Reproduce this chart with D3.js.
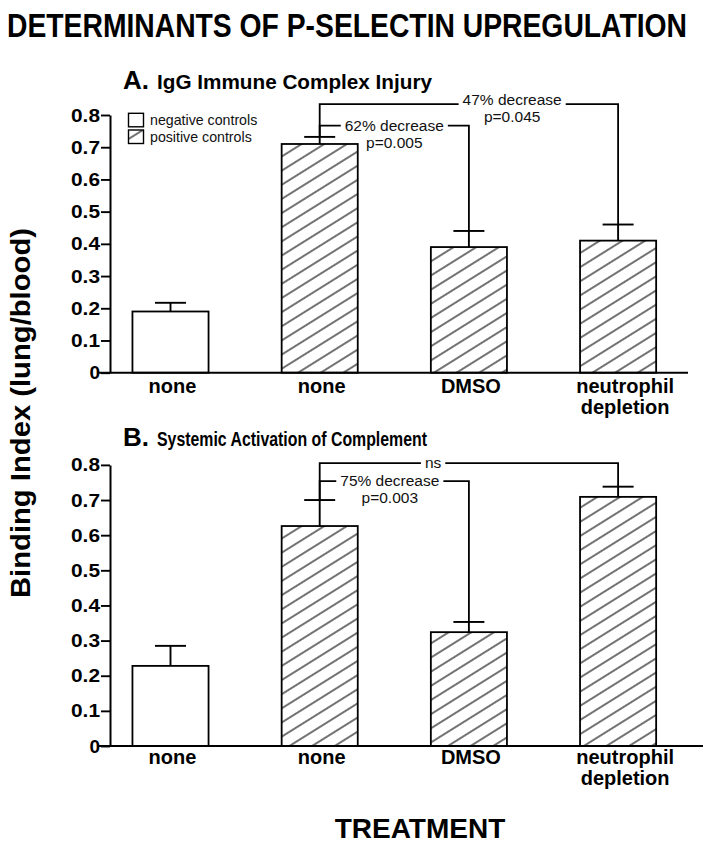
<!DOCTYPE html>
<html><head><meta charset="utf-8">
<script src="https://cdn.jsdelivr.net/npm/d3@7"></script>
<style>body{margin:0;background:#fff} svg{display:block}</style>
</head><body>
<svg id="chart" width="705" height="845"></svg>
<script>
// ---------------- data ----------------
const categoryLines = [["none"], ["none"], ["DMSO"], ["neutrophil", "depletion"]];
const controlType = ["negative", "positive", "positive", "positive"];
const legendLabels = ["negative controls", "positive controls"];
const yTickValues = [0, 0.1, 0.2, 0.3, 0.4, 0.5, 0.6, 0.7, 0.8];

const valuesA = [0.19, 0.71, 0.39, 0.41];
const errorsA = [0.027, 0.022, 0.05, 0.05];
const valuesB = [0.228, 0.626, 0.324, 0.709];
const errorsB = [0.057, 0.074, 0.029, 0.029];

const bracketsA = [
  {from: 1, to: 2, level: 0.767, label: "62% decrease", p: "p=0.005"},
  {from: 1, to: 3, level: 0.834, label: "47% decrease", p: "p=0.045"}
];
const bracketsB = [
  {from: 1, to: 2, level: 0.754, label: "75% decrease", p: "p=0.003"},
  {from: 1, to: 3, level: 0.805, label: "ns", p: ""}
];

const titleText = "DETERMINANTS OF P-SELECTIN UPREGULATION";
const panelTitles = [["A.", "IgG Immune Complex Injury"], ["B.", "Systemic Activation of Complement"]];
const yLabel = "Binding Index (lung/blood)";
const xLabel = "TREATMENT";

// ---------------- layout ----------------
const FONT = "'Liberation Sans', Arial, Helvetica, sans-serif";
const svg = d3.select("#chart").attr("font-family", FONT);
svg.append("rect").attr("width", 705).attr("height", 845).attr("fill", "#fff");

const defs = svg.append("defs");
const pat = defs.append("pattern").attr("id", "hatch")
  .attr("patternUnits", "userSpaceOnUse").attr("width", 12).attr("height", 12)
  .attr("patternTransform", "rotate(-32)");
pat.append("rect").attr("width", 12).attr("height", 12).attr("fill", "#fff");
pat.append("line").attr("x1", 0).attr("x2", 12).attr("y1", 6).attr("y2", 6)
  .attr("stroke", "#000").attr("stroke-width", 1.1);

const x = d3.scaleBand().domain(d3.range(categoryLines.length))
  .range([95.9, 692.7]).paddingInner(0.49).paddingOuter(0.245);
const cx = i => x(i) + x.bandwidth() / 2;

// title (condensed look: scaled vertically)
svg.append("text").attr("transform", "translate(7,37) scale(1,1.18)")
  .attr("font-size", 28.2).attr("font-weight", "bold")
  .attr("textLength", 680).attr("lengthAdjust", "spacingAndGlyphs").text(titleText);

// y label
svg.append("text").attr("transform", "translate(30,413) rotate(-90)")
  .attr("text-anchor", "middle").attr("font-size", 27.5).attr("font-weight", "bold")
  .attr("textLength", 370).attr("lengthAdjust", "spacingAndGlyphs").text(yLabel);

// x label
svg.append("text").attr("x", 420).attr("y", 838).attr("text-anchor", "middle")
  .attr("font-size", 28).attr("font-weight", "bold").text(xLabel);

function drawPanel(cfg) {
  const y = d3.scaleLinear().domain([0, 0.8]).range([cfg.y0, cfg.y8]);
  const g = svg.append("g");

  // panel title
  g.append("text").attr("x", 123).attr("y", cfg.titleY).attr("font-size", 26)
    .attr("font-weight", "bold").text(cfg.title[0]);
  g.append("text").attr("x", 157).attr("y", cfg.titleY).attr("font-size", 20)
    .attr("font-weight", "bold").attr("textLength", cfg.titleLen)
    .attr("lengthAdjust", "spacingAndGlyphs").text(cfg.title[1]);

  // bars
  g.selectAll("rect.bar").data(cfg.values).join("rect").attr("class", "bar")
    .attr("x", (d, i) => x(i)).attr("width", x.bandwidth())
    .attr("y", d => y(d)).attr("height", d => y(0) - y(d))
    .attr("fill", (d, i) => controlType[i] === "negative" ? "#fff" : "url(#hatch)")
    .attr("stroke", "#000").attr("stroke-width", 1.8);

  // error bars
  cfg.values.forEach((v, i) => {
    const top = y(v + cfg.errors[i]);
    g.append("line").attr("x1", cx(i)).attr("x2", cx(i)).attr("y1", y(v)).attr("y2", top)
      .attr("stroke", "#000").attr("stroke-width", 1.9);
    g.append("line").attr("x1", cx(i) - 15.5).attr("x2", cx(i) + 15.5).attr("y1", top).attr("y2", top)
      .attr("stroke", "#000").attr("stroke-width", 1.9);
  });

  // y axis
  const ax = g.append("g").attr("transform", "translate(110,0)")
    .call(d3.axisLeft(y).tickValues(yTickValues).tickSize(9).tickSizeOuter(0).tickPadding(1)
      .tickFormat(d => d === 0 ? "0" : d3.format(".1f")(d)));
  ax.select(".domain").attr("stroke", "#000").attr("stroke-width", 2);
  ax.selectAll(".tick line").attr("stroke", "#000").attr("stroke-width", 1.9);
  ax.selectAll(".tick text").attr("font-family", FONT).attr("font-size", 19)
    .attr("font-weight", "bold").attr("fill", "#000")
    .each(function(d) { if (d !== 0) d3.select(this).attr("textLength", 29).attr("lengthAdjust", "spacingAndGlyphs"); });

  // x baseline
  g.append("line").attr("x1", 98).attr("x2", cfg.xEnd).attr("y1", y(0)).attr("y2", y(0))
    .attr("stroke", "#000").attr("stroke-width", 2);

  // x axis labels
  const xa = g.append("g").attr("transform", `translate(0,${y(0)})`)
    .call(d3.axisBottom(x).tickSize(0).tickPadding(0).tickFormat(""));
  xa.select(".domain").remove();
  xa.selectAll(".tick text").each(function(d) {
    const t = d3.select(this).attr("font-family", FONT).attr("font-size", 20)
      .attr("font-weight", "bold").attr("fill", "#000").attr("y", 0).attr("dy", null);
    categoryLines[d].forEach((ln, k) => {
      t.append("tspan").attr("x", d === 3 ? 7 : 2).attr("y", cfg.labelDy + k * 21).text(ln);
    });
  });

  // brackets
  cfg.brackets.forEach((b, bi) => {
    const xl = cx(b.from), xr = cx(b.to), yl = y(b.level);
    const yTopL = y(cfg.values[b.from] + cfg.errors[b.from]);
    const yTopR = y(cfg.values[b.to] + cfg.errors[b.to]);
    const tx = xl + cfg.labelFrac[bi] * (xr - xl);
    const t = g.append("text").attr("x", tx).attr("y", yl + cfg.labelBase[bi])
      .attr("text-anchor", "middle").attr("font-size", 15.5).attr("fill", "#111").text(b.label);
    const w = t.node().getComputedTextLength();
    if (b.p) g.append("text").attr("x", tx).attr("y", yl + cfg.labelBase[bi] + 17)
      .attr("text-anchor", "middle").attr("font-size", 15.5).attr("fill", "#111").text(b.p);
    const gap = 4;
    g.append("path").attr("fill", "none").attr("stroke", "#000").attr("stroke-width", 1.8)
      .attr("d", `M${xl},${yTopL}V${yl}H${tx - w / 2 - gap}M${tx + w / 2 + gap},${yl}H${xr}V${yTopR}`);
  });

  // legend
  if (cfg.legend) {
    legendLabels.forEach((lab, k) => {
      const ly = 113.3 + k * 16.7;
      g.append("rect").attr("x", 128.5).attr("y", ly).attr("width", 15).attr("height", 13.5)
        .attr("fill", k === 0 ? "#fff" : "url(#hatch)").attr("stroke", "#000").attr("stroke-width", 1.4);
      g.append("text").attr("x", 150).attr("y", ly + 11.5).attr("font-size", 14.2)
        .attr("fill", "#111").text(lab);
    });
  }
}

drawPanel({
  y0: 372.7, y8: 115, values: valuesA, errors: errorsA, brackets: bracketsA,
  title: panelTitles[0], titleY: 89, titleLen: 275, xEnd: 688, labelDy: 20,
  labelFrac: [0.5, 0.645], labelBase: [5, 1], legend: true
});
drawPanel({
  y0: 746, y8: 464.9, values: valuesB, errors: errorsB, brackets: bracketsB,
  title: panelTitles[1], titleY: 446, titleLen: 270, xEnd: 703, labelDy: 18,
  labelFrac: [0.47, 0.38], labelBase: [5, 5], legend: false
});
</script>
</body></html>
